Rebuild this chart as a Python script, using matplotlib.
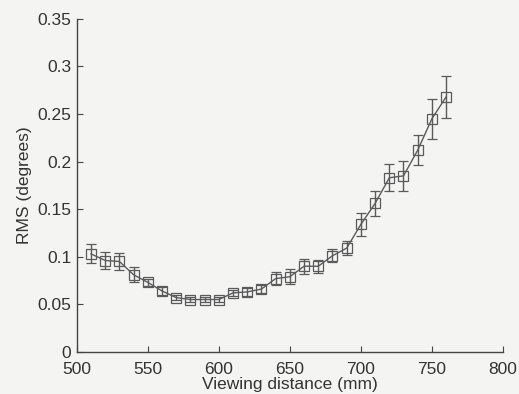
import matplotlib
matplotlib.use("Agg")
import matplotlib.pyplot as plt
from matplotlib.ticker import FuncFormatter

distance = [510, 520, 530, 540, 550, 560, 570, 580, 590, 600, 610, 620, 630,
            640, 650, 660, 670, 680, 690, 700, 710, 720, 730, 740, 750, 760]
rms = [0.103, 0.096, 0.095, 0.081, 0.073, 0.064, 0.057, 0.055, 0.055, 0.055,
       0.062, 0.063, 0.066, 0.077, 0.079, 0.090, 0.090, 0.101, 0.109, 0.134,
       0.156, 0.183, 0.185, 0.212, 0.245, 0.268]
err = [0.010, 0.009, 0.009, 0.008, 0.004, 0.004, 0.003, 0.003, 0.003, 0.003,
       0.003, 0.004, 0.004, 0.007, 0.008, 0.008, 0.007, 0.007, 0.007, 0.012,
       0.013, 0.014, 0.016, 0.016, 0.021, 0.022]
xticks = [500, 550, 600, 650, 700, 750, 800]
yticks = [0, 0.05, 0.1, 0.15, 0.2, 0.25, 0.3, 0.35]

plt.rcParams['font.family'] = ['Liberation Sans', 'DejaVu Sans']
bg = '#f4f4f2'
txt = '#333333'
lc = '#5a5a5a'

fig = plt.figure(figsize=(5.19, 3.94), dpi=100, facecolor=bg)
ax = fig.add_axes([0.148, 0.107, 0.821, 0.845], facecolor=bg)

ax.errorbar(distance, rms, yerr=err, color=lc, lw=1.0, elinewidth=1.0,
            capsize=3.5, capthick=1.0, marker='s', markersize=6.5,
            markerfacecolor='none', markeredgecolor=lc, markeredgewidth=0.9)

ax.set_xlim(500, 800)
ax.set_ylim(0, 0.35)
ax.set_xticks(xticks)
ax.set_yticks(yticks)
ax.yaxis.set_major_formatter(FuncFormatter(lambda v, p: f"{v:g}"))
for s in ['top', 'right']:
    ax.spines[s].set_visible(False)
for s in ['left', 'bottom']:
    ax.spines[s].set_color('#444444')
    ax.spines[s].set_linewidth(1.0)
ax.tick_params(direction='in', length=4, width=0.8, colors='#444444',
               labelsize=12.5, labelcolor=txt)
ax.tick_params(axis='x', pad=7)
ax.tick_params(axis='y', pad=4)
ax.set_xlabel('Viewing distance (mm)', fontsize=12.5, color=txt, labelpad=0)
ax.set_ylabel('RMS (degrees)', fontsize=12.5, color=txt, labelpad=4)

fig.savefig('out.png', dpi=100, facecolor=bg)
